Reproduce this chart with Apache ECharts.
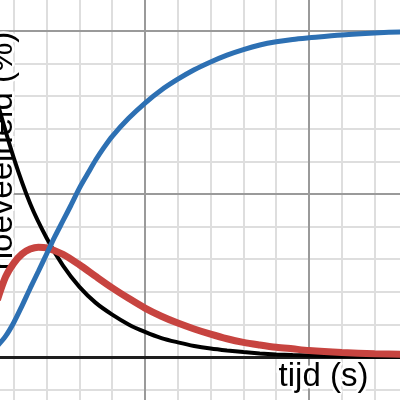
<!DOCTYPE html>
<html>
<head>
<meta charset="utf-8">
<script src="https://cdn.jsdelivr.net/npm/echarts@6/dist/echarts.min.js"></script>
<style>html,body{margin:0;padding:0;background:#fff}#c{width:400px;height:400px}</style>
</head>
<body>
<div id="c"></div>
<script>
// time values (s) and amounts (%)
const blackT = [0.5, 1.0, 1.5, 2.0, 2.5, 3.0, 3.5, 4.0, 4.5, 5.0, 5.5, 6.0, 6.5, 7.0, 7.5, 8.0, 8.5, 9.0, 9.5, 10, 11, 12, 13];
const blackV = [78, 61, 47, 36.5, 28, 21.5, 16.6, 13, 10, 7.7, 5.8, 4.5, 3.4, 2.6, 2.0, 1.5, 1.1, 0.8, 0.6, 0.45, 0.25, 0.1, 0.05];

const redT = [0.5, 0.75, 1.0, 1.25, 1.5, 1.75, 2.0, 2.5, 3.0, 3.5, 4.0, 4.5, 5.0, 5.5, 6.0, 6.5, 7.0, 7.5, 8.0, 8.5, 9.0, 9.5, 10, 11, 12, 13];
const redV = [17.5, 24.6, 28.8, 31.6, 33.1, 33.7, 33.5, 31.5, 28.3, 24.7, 21.2, 18.0, 15.0, 12.5, 10.4, 8.6, 7.0, 5.6, 4.5, 3.7, 3.0, 2.5, 2.0, 1.4, 1.0, 0.8];

const blueT = [0.5, 0.75, 1.0, 1.25, 1.5, 1.75, 2.0, 2.25, 2.5, 2.75, 3.0, 3.25, 3.5, 3.75, 4.0, 4.5, 5.0, 5.5, 6.0, 6.5, 7.0, 7.5, 8.0, 8.5, 9.0, 9.5, 10, 11, 12, 13];
const blueV = [3.4, 6.4, 10.6, 15.7, 21.1, 26.3, 31.6, 36.9, 41.8, 46.7, 51.8, 56.2, 60.5, 64.3, 67.7, 73.2, 77.9, 81.9, 85.2, 88.1, 90.5, 92.6, 94.3, 95.7, 96.7, 97.4, 97.9, 98.8, 99.4, 99.8];

// grid line positions (axis values)
const minorX = [1, 2, 3, 4, 6, 7, 8, 9, 11, 12];
const majorX = [5, 10];
const minorY = [-10, 10, 20, 30, 40, 60, 70, 80, 90];
const majorY = [50, 100];

const xLabel = 'tijd (s)';
const yLabel = 'hoeveelheid (%)';

function pairs(t, v) { return t.map((x, i) => [x, v[i]]); }

const chart = echarts.init(document.getElementById('c'), null, {renderer: 'canvas'});
const minorColor = '#dedede';
const majorColor = '#9a9a9a';
const font = '33px "Liberation Sans", Arial, sans-serif';

function gridSeries(xs, ys, color, z) {
  return {
    type: 'line', data: [], z: z, silent: true,
    markLine: {
      silent: true, symbol: ['none', 'none'], label: {show: false}, animation: false,
      emphasis: {disabled: true},
      lineStyle: {color: color, width: 2, type: 'solid'},
      data: xs.map(v => ({xAxis: v})).concat(ys.map(v => ({yAxis: v})))
    }
  };
}

chart.setOption({
  animation: false,
  backgroundColor: '#ffffff',
  grid: {left: 0, right: 0, top: 0, bottom: 0, containLabel: false},
  xAxis: {type: 'value', min: 0.579, max: 12.774, z: 5,
     axisLine: {show: true, onZero: true, lineStyle: {color: '#1e1e1e', width: 3}},
     axisTick: {show: false}, axisLabel: {show: false}, splitLine: {show: false}},
  yAxis: {type: 'value', min: -13.19, max: 109.5,
     axisLine: {show: false}, axisTick: {show: false}, axisLabel: {show: false}, splitLine: {show: false}},
  graphic: [
    {type: 'text', x: 2.5, y: 151, rotation: Math.PI / 2, z: 6,
     style: {text: yLabel, font: font, fill: '#000', stroke: '#fff', lineWidth: 5, strokeFirst: true,
             textAlign: 'center', textVerticalAlign: 'middle', verticalAlign: 'middle'}},
    {type: 'text', x: 323.5, y: 376.6, z: 6,
     style: {text: xLabel, font: font, fill: '#000', stroke: '#fff', lineWidth: 5, strokeFirst: true,
             textAlign: 'center', textVerticalAlign: 'middle', verticalAlign: 'middle'}}
  ],
  series: [
    gridSeries(minorX, minorY, minorColor, 1),
    gridSeries(majorX, majorY, majorColor, 2),
    {type: 'line', data: pairs(blackT, blackV), showSymbol: false,
     smooth: 0.3, z: 10, lineStyle: {color: '#000000', width: 4}},
    {type: 'line', data: pairs(redT, redV), showSymbol: false,
     smooth: 0.3, z: 11, lineStyle: {color: '#c74440', width: 7}},
    {type: 'line', data: pairs(blueT, blueV), showSymbol: false,
     smooth: 0.3, z: 12, lineStyle: {color: '#2d70b3', width: 5}}
  ]
});
</script>
</body>
</html>
